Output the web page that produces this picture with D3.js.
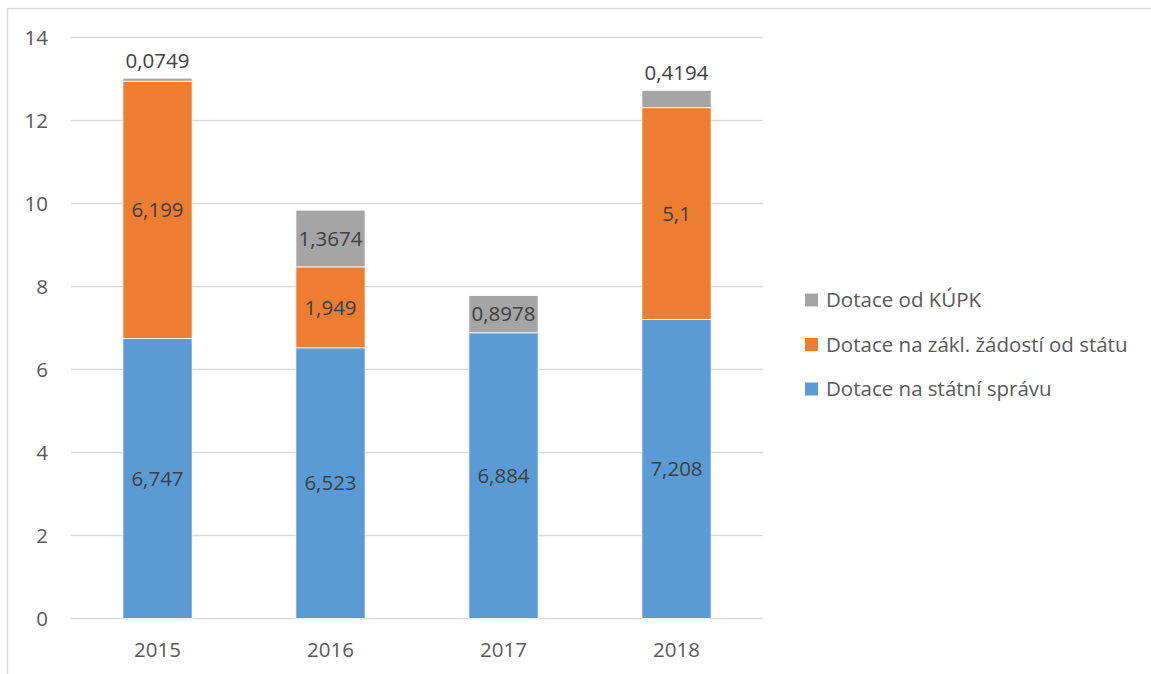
<!DOCTYPE html>
<html>
<head>
<meta charset="utf-8">
<script src="https://cdn.jsdelivr.net/npm/d3@7"></script>
<style>
  body { margin: 0; background: #fff; }
  svg { display: block; font-family: "Open Sans", Lato, sans-serif; }
</style>
</head>
<body>
<script>
// chart data
const years = ['2015', '2016', '2017', '2018'];
const statniSprava = [6.747, 6.523, 6.884, 7.208];
const zadostStat = [6.199, 1.949, 0, 5.1];
const kupk = [0.0749, 1.3674, 0.8978, 0.4194];
const seriesNames = ['Dotace na státní správu', 'Dotace na zákl. žádostí od státu', 'Dotace od KÚPK'];
const seriesColors = ['#5b9bd5', '#ed7d31', '#a5a5a5'];
const yTicks = [0, 2, 4, 6, 8, 10, 12, 14];

const width = 1151, height = 674;
const plotLeft = 71, plotRight = 763, plotTop = 37.5, plotBottom = 618.5;
const fs = 20.5;

const svg = d3.select('body').append('svg')
  .attr('width', width)
  .attr('height', height);

// outer frame
svg.append('rect')
  .attr('x', 7.5).attr('y', 8.5)
  .attr('width', 1150).attr('height', 670)
  .attr('fill', 'none')
  .attr('stroke', '#d9d9d9')
  .attr('stroke-width', 1.5);

const x = d3.scaleBand().domain(years).range([plotLeft, plotRight])
  .paddingInner(0.6).paddingOuter(0.3);
const y = d3.scaleLinear().domain([0, 14]).range([plotBottom, plotTop]);

// gridlines
svg.append('g').selectAll('line')
  .data(yTicks)
  .join('line')
  .attr('x1', plotLeft).attr('x2', plotRight)
  .attr('y1', d => y(d)).attr('y2', d => y(d))
  .attr('stroke', '#d9d9d9')
  .attr('stroke-width', 1.3);

// y tick labels
svg.append('g').selectAll('text')
  .data(yTicks)
  .join('text')
  .attr('x', 48)
  .attr('y', d => y(d))
  .attr('dy', '0.35em')
  .attr('text-anchor', 'end')
  .attr('font-size', fs)
  .attr('fill', '#595959')
  .text(d => d);

// x labels
svg.append('g').selectAll('text')
  .data(years)
  .join('text')
  .attr('x', d => x(d) + x.bandwidth() / 2)
  .attr('y', 657)
  .attr('text-anchor', 'middle')
  .attr('font-size', fs)
  .attr('fill', '#595959')
  .text(d => d);

// stack
const rows = years.map((yr, i) => ({ year: yr, s0: statniSprava[i], s1: zadostStat[i], s2: kupk[i] }));
const stack = d3.stack().keys(['s0', 's1', 's2']);
const layers = stack(rows);

const fmt = v => String(v).replace('.', ',');

layers.forEach((layer, li) => {
  const g = svg.append('g');
  const segs = layer.filter(d => d[1] - d[0] > 0);
  g.selectAll('rect')
    .data(segs)
    .join('rect')
    .attr('x', d => x(d.data.year))
    .attr('width', x.bandwidth())
    .attr('y', d => y(d[1]))
    .attr('height', d => y(d[0]) - y(d[1]))
    .attr('fill', seriesColors[li])
    .attr('stroke', '#fff')
    .attr('stroke-width', 0.8);

  g.selectAll('text')
    .data(segs)
    .join('text')
    .attr('x', d => x(d.data.year) + x.bandwidth() / 2)
    .attr('y', d => {
      // thin top segment: label goes above the bar
      if (y(d[0]) - y(d[1]) < 22) return y(d[1]) - 17;
      return (y(d[0]) + y(d[1])) / 2;
    })
    .attr('dy', '0.35em')
    .attr('text-anchor', 'middle')
    .attr('font-size', fs)
    .attr('fill', '#404040')
    .text(d => fmt(d.data[layer.key]));
});

// legend
const legendItems = [2, 1, 0];
const lg = svg.append('g');
legendItems.forEach((si, k) => {
  const cy = 300 + k * 44.5;
  lg.append('rect')
    .attr('x', 805).attr('y', cy - 6.5)
    .attr('width', 13).attr('height', 13)
    .attr('fill', seriesColors[si]);
  lg.append('text')
    .attr('x', 826).attr('y', cy)
    .attr('dy', '0.35em')
    .attr('font-size', fs)
    .attr('fill', '#595959')
    .text(seriesNames[si]);
});
</script>
</body>
</html>
